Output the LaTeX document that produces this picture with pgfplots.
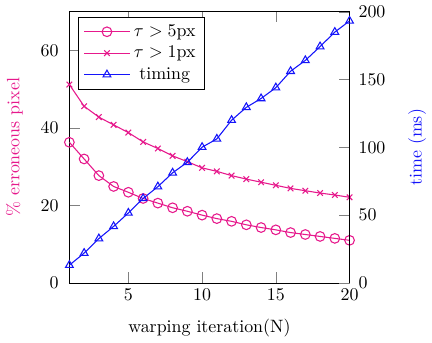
\documentclass[border=0pt]{standalone}
\usepackage{pgfplots}
\pgfplotsset{compat=1.18}
\definecolor{errPink}{RGB}{230,25,140}
\definecolor{timeBlue}{RGB}{20,20,250}

\pgfplotstableread{
n  px5   px1
1  36.3  51.2
2  32.0  45.6
3  27.7  42.8
4  24.9  40.8
5  23.4  38.8
6  21.8  36.4
7  20.6  34.7
8  19.4  32.8
9  18.5  31.3
10 17.5  29.7
11 16.6  28.8
12 15.9  27.7
13 15.0  26.8
14 14.3  26.0
15 13.7  25.2
16 13.0  24.4
17 12.5  23.8
18 12.0  23.2
19 11.5  22.7
20 11.0  22.1
}\errtable

\pgfplotstableread{
n  t
1  13.1
2  22.0
3  32.7
4  41.7
5  51.6
6  62.3
7  71.0
8  81.2
9  89.0
10 100.1
11 106.2
12 120.0
13 129.5
14 136.0
15 144.0
16 156.1
17 164.1
18 174.3
19 185.0
20 193.2
}\timetable

\begin{document}
\begin{tikzpicture}
\pgfplotsset{
  every axis/.append style={
    scale only axis, width=156bp, height=151bp,
    xmin=1, xmax=20,
    tick style={gray}, major tick length=5.9bp,
  },
}
\begin{axis}[
  axis y line*=left,
  ymin=0, ymax=70,
  ytick={0,20,40,60},
  xtick={5,10,15,20},
  yticklabel style={xshift=-2.5bp},
  xlabel={warping iteration(N)},
  xlabel style={at={(axis description cs:0.5,0)}, anchor=center, yshift=-25bp},
  ylabel={\% erroneous pixel},
  ylabel style={errPink, at={(axis description cs:0,0.5)}, anchor=center, rotate=0, yshift=30.6bp},
  legend style={at={(0.03,0.98)}, anchor=north west, draw=black, font=\normalsize},
  legend cell align=center,
  legend image code/.code={\draw[mark repeat=2,mark phase=2] plot coordinates {(0cm,0cm) (0.45cm,0cm) (0.9cm,0cm)};},
]
\addplot[errPink, semithick, mark=o, mark size=2.7pt] table[x=n, y=px5] {\errtable};
\addlegendentry{$\tau > 5$px}
\addplot[errPink, semithick, mark=x, mark size=2.2pt] table[x=n, y=px1] {\errtable};
\addlegendentry{$\tau > 1$px}
\addlegendimage{timeBlue, semithick, mark=triangle, mark size=2.5pt}
\addlegendentry{timing}
\end{axis}
\begin{axis}[
  axis y line*=right,
  axis x line=none,
  ymin=0, ymax=200,
  ytick={0,50,100,150,200},
  yticklabel style={xshift=1.5bp},
  ylabel={time (ms)},
  ylabel style={timeBlue, at={(axis description cs:1,0.5)}, anchor=center, yshift=-37.6bp},
]
\addplot[timeBlue, semithick, mark=triangle, mark size=2.5pt] table[x=n, y=t] {\timetable};
\end{axis}
\end{tikzpicture}
\end{document}
